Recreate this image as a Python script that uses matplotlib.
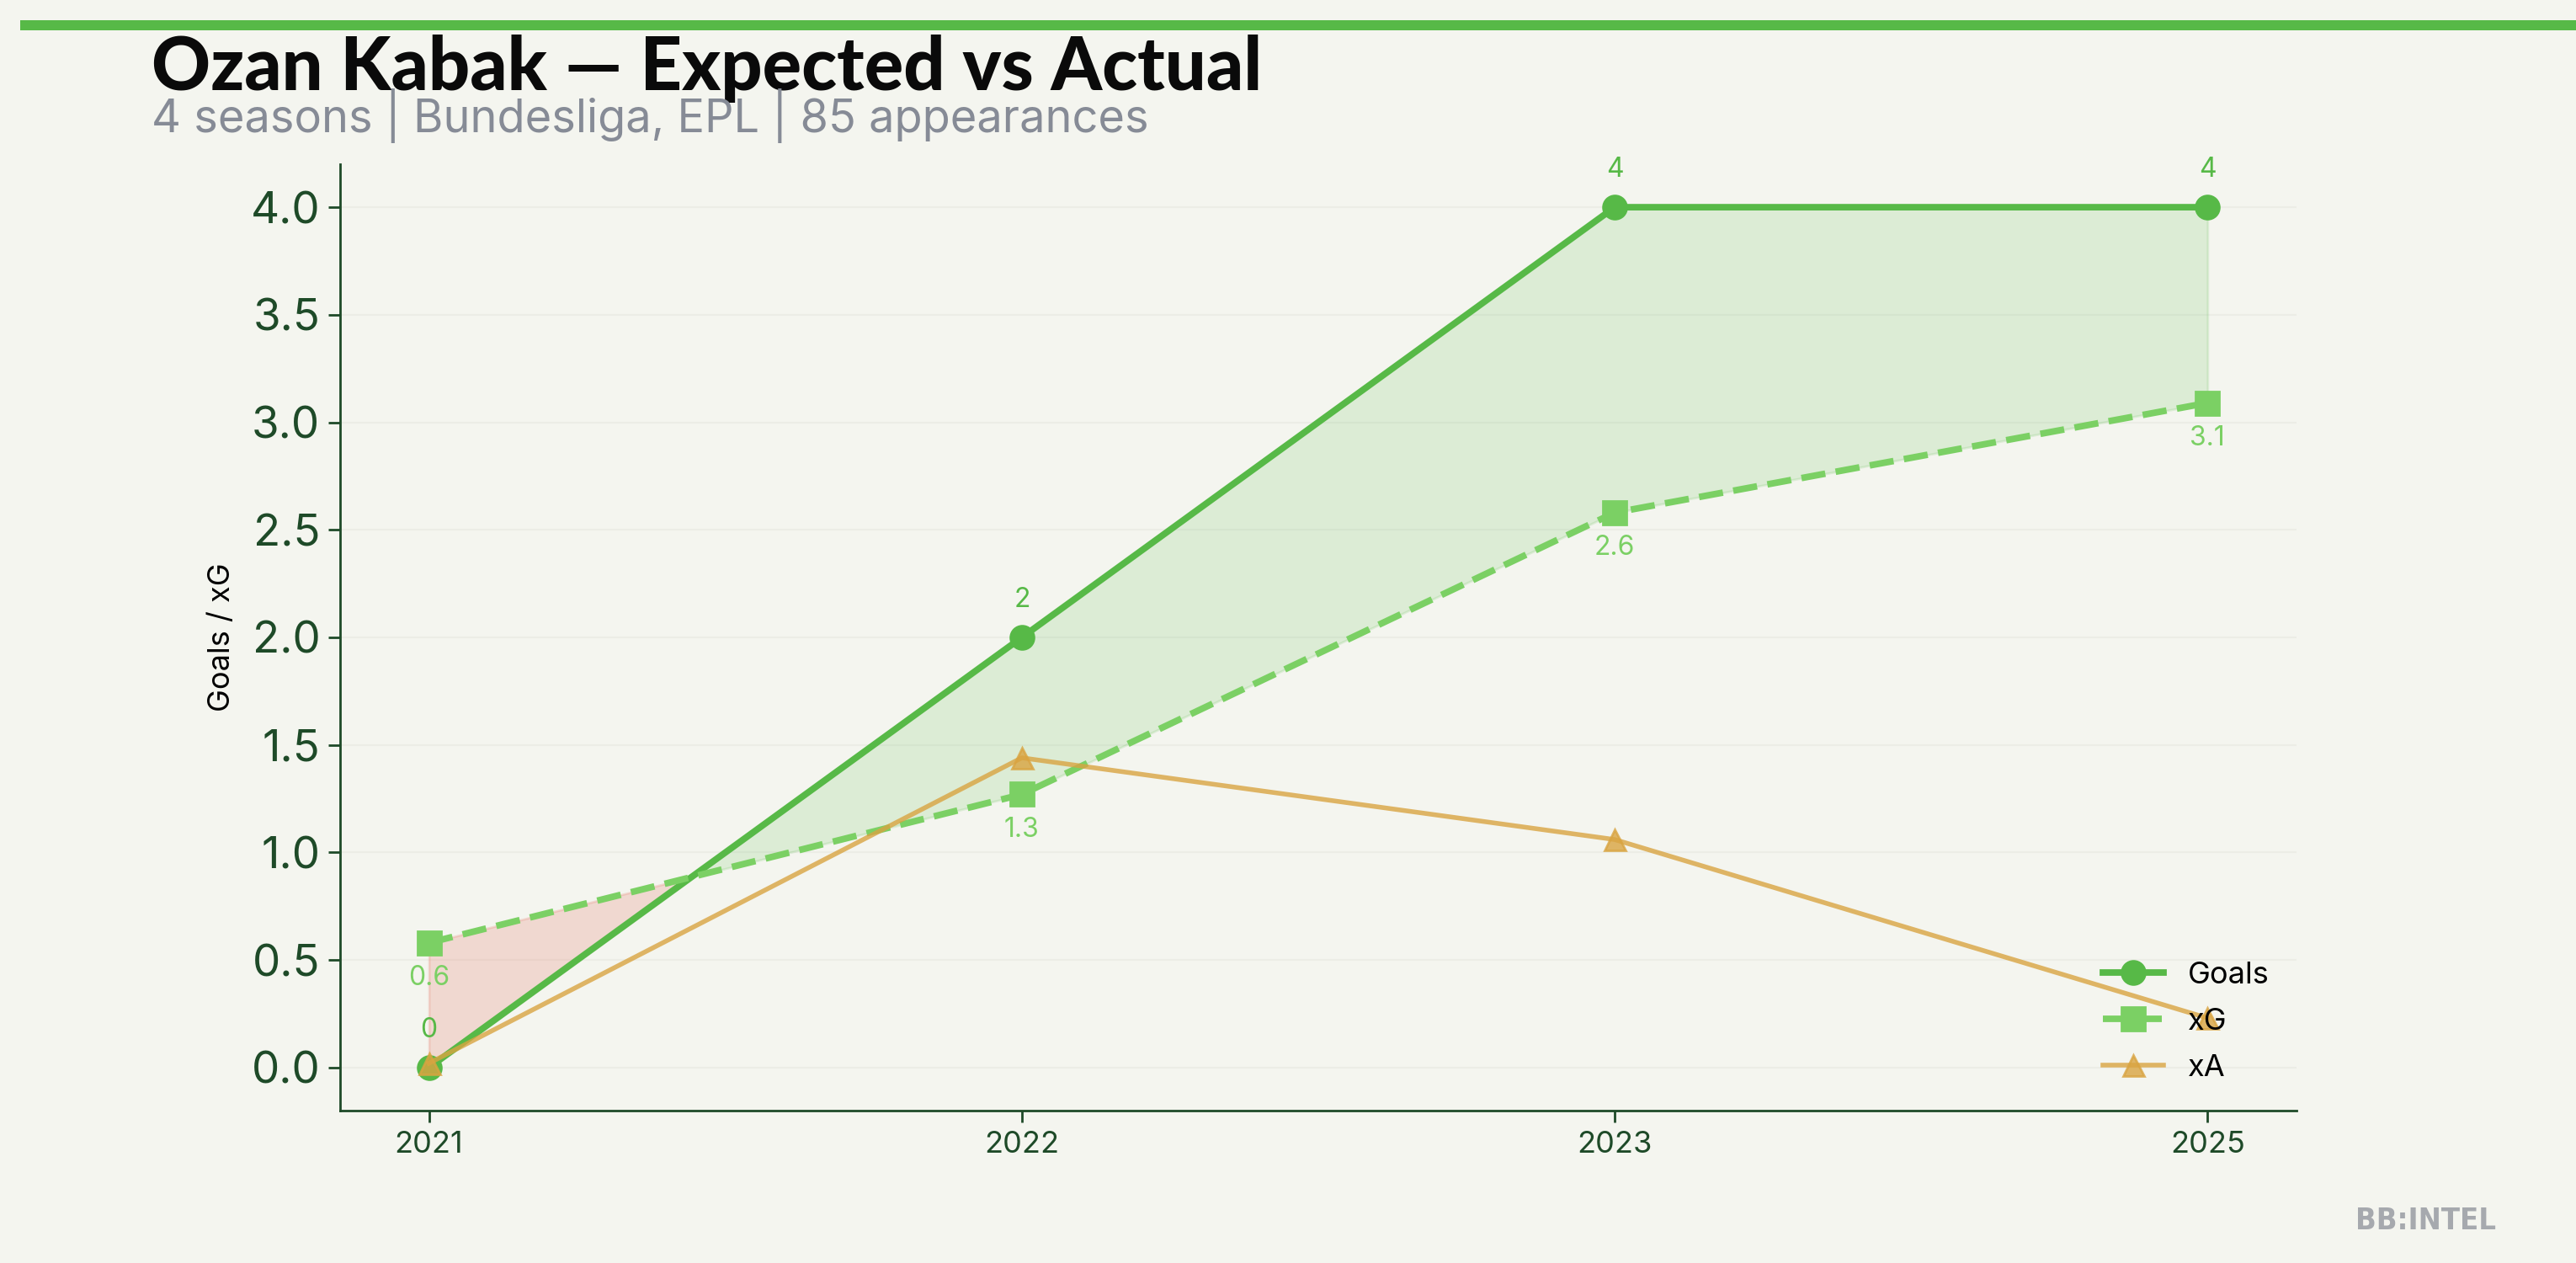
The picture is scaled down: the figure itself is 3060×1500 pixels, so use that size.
import matplotlib
matplotlib.use("Agg")
import matplotlib.pyplot as plt
import numpy as np
from matplotlib.patches import Rectangle

# data
seasons = ["2021", "2022", "2023", "2025"]
goals = [0, 2, 4, 4]
xg = [0.58, 1.27, 2.58, 3.09]
xa = [0.02, 1.44, 1.06, 0.23]

title = "Ozan Kabak \u2014 Expected vs Actual"
subtitle = "4 seasons | Bundesliga, EPL | 85 appearances"

bg = "#F4F5EF"
green = "#57B947"
light_green = "#7BD064"
gold = "#D9A441"
dark = "#1E4A28"

plt.rcParams["font.family"] = ["Inter", "DejaVu Sans"]

fig = plt.figure(figsize=(15.3, 7.5), dpi=200, facecolor=bg)
ax = fig.add_axes([0.132, 0.1207, 0.7595, 0.7493])
ax.set_facecolor(bg)

x = np.arange(len(seasons))
g = np.array(goals, dtype=float)
e = np.array(xg, dtype=float)

# over / under performance shading
ax.fill_between(x, g, e, where=g >= e, interpolate=True, color=green, alpha=0.15, zorder=1)
ax.fill_between(x, g, e, where=g < e, interpolate=True, color="#E57363", alpha=0.22, zorder=1)

ax.plot(x, goals, color=green, lw=2.8, marker="o", markersize=10, label="Goals", zorder=3)
ax.plot(x, xg, color=light_green, lw=2.8, ls="--", marker="s", markersize=10, label="xG", zorder=3)
ax.plot(x, xa, color=gold, lw=2.0, marker="^", markersize=9, alpha=0.8, label="xA", zorder=4)

for i in range(len(seasons)):
    ax.annotate(f"{goals[i]:g}", (x[i], goals[i]), xytext=(0, 16), textcoords="offset points",
                ha="center", va="center", fontsize=11.5, color=green)
    ax.annotate(f"{xg[i]:.1f}", (x[i], xg[i]), xytext=(0, -15), textcoords="offset points",
                ha="center", va="center", fontsize=11.5, color=light_green)

ax.set_xticks(x)
ax.set_xticklabels(seasons)
ax.tick_params(axis="x", labelsize=13, colors=dark, length=5, width=1)
ax.tick_params(axis="y", labelsize=19, colors=dark, length=5, width=1)
ax.set_yticks(np.arange(0, 4.01, 0.5))
ax.yaxis.grid(True, color="#ECEDE6", lw=0.8)
ax.set_axisbelow(True)
ax.set_ylabel("Goals / xG", fontsize=13, color="black", labelpad=6.5)

for s in ["top", "right"]:
    ax.spines[s].set_visible(False)
for s in ["left", "bottom"]:
    ax.spines[s].set_color(dark)
    ax.spines[s].set_linewidth(1.0)

ax.legend(loc="lower right", frameon=False, fontsize=13, labelspacing=0.61,
          bbox_to_anchor=(1.0, 0.0015))

# header
fig.add_artist(Rectangle((0.0078, 0.976), 1.0, 0.008, transform=fig.transFigure,
                         color=green, lw=0))
fig.text(0.0588, 0.929, title, fontsize=31.2, fontweight="black", family=["Lato", "DejaVu Sans"],
         color="#0A0A0A", va="baseline")
fig.text(0.0588, 0.895, subtitle, fontsize=19.5, color="#868B96", va="baseline")
fig.text(0.969, 0.033, "BB:INTEL", fontsize=13, fontweight="bold", fontstretch="condensed",
         family=["DejaVu Sans"], color="#A6A9AE", ha="right", va="center")

fig.savefig("out.png", dpi=200, facecolor=bg)
